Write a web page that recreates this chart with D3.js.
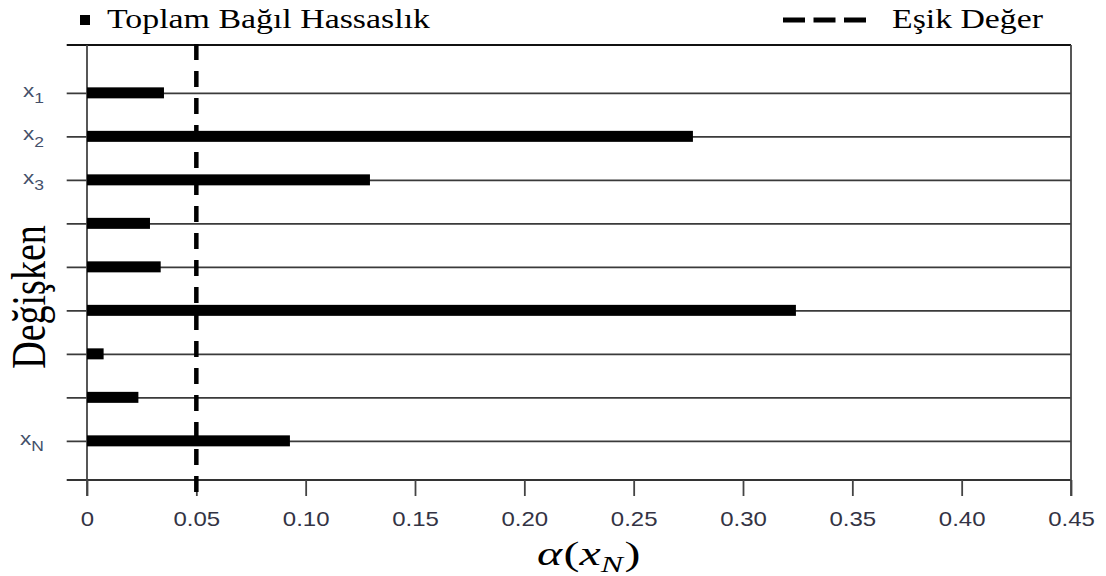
<!DOCTYPE html>
<html>
<head>
<meta charset="utf-8">
<script src="https://cdn.jsdelivr.net/npm/d3@7"></script>
<style>
  body { margin: 0; background: #fff; }
  svg { display: block; }
</style>
</head>
<body>
<script>
const outerWidth = 1106
const outerHeight = 576
const margins = { top: 45, right: 35, bottom: 96, left: 87 }

// data
const variables = ['x1', 'x2', 'x3', 'x4', 'x5', 'x6', 'x7', 'x8', 'xN']
const subscripts = ['1', '2', '3', '', '', '', '', '', 'N']
const shown = [true, true, true, false, false, false, false, false, true]
const sensitivity = [0.0352, 0.2771, 0.1294, 0.0288, 0.0337, 0.3242, 0.0076, 0.0235, 0.0928]
const threshold = 0.05
const xTicks = [0, 0.05, 0.10, 0.15, 0.20, 0.25, 0.30, 0.35, 0.40, 0.45]

const serif = '"Liberation Serif", "Times New Roman", serif'
const sans = '"Liberation Sans", Arial, sans-serif'
const stretch = 1.25

const svg = d3.select('body').append('svg')
  .attr('width', outerWidth)
  .attr('height', outerHeight)

const xScale = d3.scaleLinear()
  .domain([0, 0.45])
  .range([margins.left, outerWidth - margins.right])

const yScale = d3.scalePoint()
  .domain(variables)
  .range([margins.top, outerHeight - margins.bottom])
  .padding(1)
  .align(0.55)

const left = 66.7
const bottom = outerHeight - margins.bottom

// horizontal row lines (y axis with full-width ticks)
const yAxis = d3.axisLeft(yScale)
  .tickSize(-(xScale.range()[1] - left))
  .tickPadding(22.7)
  .tickFormat('')
const gy = svg.append('g')
  .attr('transform', `translate(${left},0)`)
  .call(yAxis)
gy.select('.domain').remove()
gy.selectAll('.tick line').attr('stroke', '#3a3a3a').attr('stroke-width', 1.6)
gy.selectAll('.tick text').remove()
gy.selectAll('.tick').each(function (d, i) {
  if (!shown[i]) return
  const t = d3.select(this).append('text')
    .attr('transform', `translate(-22.7,0) scale(${stretch},1)`)
    .attr('text-anchor', 'end')
    .attr('fill', '#44506a')
    .style('font-family', sans)
  t.append('tspan').attr('y', 3.5).style('font-size', '18px').text('x')
  t.append('tspan').attr('dy', 6.5).style('font-size', '14px').text(subscripts[i])
})

// top and bottom frame lines
svg.selectAll('line.frame')
  .data(yScale.range())
  .enter().append('line')
  .attr('class', 'frame')
  .attr('x1', left)
  .attr('x2', xScale.range()[1])
  .attr('y1', d => d)
  .attr('y2', d => d)
  .attr('stroke', d => d === margins.top ? '#111' : '#333')
  .attr('stroke-width', d => d === margins.top ? 2 : 1.8)

// bottom axis
const xAxis = d3.axisBottom(xScale)
  .tickValues(xTicks)
  .tickSize(16)
  .tickPadding(16)
  .tickFormat(d => d === 0 ? '0' : d.toFixed(2))
const gx = svg.append('g')
  .attr('transform', `translate(0,${bottom})`)
  .call(xAxis)
gx.select('.domain').remove()
gx.selectAll('.tick line').attr('stroke', '#444').attr('stroke-width', 1.8)
gx.selectAll('.tick text')
  .attr('transform', `scale(1.2,1)`)
  .attr('fill', '#333344')
  .style('font-family', sans)
  .style('font-size', '20px')

// vertical axis and right border
svg.selectAll('line.vert')
  .data([0, 0.45])
  .enter().append('line')
  .attr('class', 'vert')
  .attr('x1', d => xScale(d))
  .attr('x2', d => xScale(d))
  .attr('y1', margins.top)
  .attr('y2', bottom + 16)
  .attr('stroke', '#444')
  .attr('stroke-width', 1.8)

// bars
svg.selectAll('rect.bar')
  .data(sensitivity)
  .enter().append('rect')
  .attr('class', 'bar')
  .attr('x', xScale(0))
  .attr('y', (d, i) => yScale(variables[i]) - 5.5)
  .attr('width', d => xScale(d) - xScale(0))
  .attr('height', 11)
  .attr('fill', '#000')

// threshold line
svg.append('line')
  .attr('x1', xScale(threshold))
  .attr('x2', xScale(threshold))
  .attr('y1', margins.top - 1)
  .attr('y2', bottom + 16)
  .attr('stroke', '#000')
  .attr('stroke-width', 4.5)
  .attr('stroke-dasharray', '16,11')

// legend
svg.append('rect')
  .attr('x', 80).attr('y', 15)
  .attr('width', 10).attr('height', 10)
  .attr('fill', '#000')
svg.append('text')
  .attr('x', 107).attr('y', 28)
  .attr('textLength', 323)
  .attr('lengthAdjust', 'spacingAndGlyphs')
  .style('font-family', serif)
  .style('font-size', '27px')
  .text('Toplam Bağıl Hassaslık')

svg.append('line')
  .attr('x1', 783).attr('x2', 866)
  .attr('y1', 20).attr('y2', 20)
  .attr('stroke', '#000')
  .attr('stroke-width', 5)
  .attr('stroke-dasharray', '22,8.5')
svg.append('text')
  .attr('x', 892).attr('y', 28)
  .attr('textLength', 151)
  .attr('lengthAdjust', 'spacingAndGlyphs')
  .style('font-family', serif)
  .style('font-size', '27px')
  .text('Eşik Değer')

// axis titles
svg.append('text')
  .attr('transform', `translate(45,297) scale(${stretch},1) rotate(-90)`)
  .attr('text-anchor', 'middle')
  .style('font-family', serif)
  .style('font-size', '38px')
  .text('Değişken')

const xt = svg.append('text')
  .attr('transform', `translate(537,565) scale(1.45,1)`)
  .style('font-family', serif)
  .style('font-size', '33px')
xt.append('tspan').style('font-style', 'italic').text('α')
xt.append('tspan').attr('dx', 1).text('(')
xt.append('tspan').style('font-style', 'italic').text('x')
xt.append('tspan').attr('dy', 7).style('font-style', 'italic').style('font-size', '23px').text('N')
xt.append('tspan').attr('dy', -7).attr('dx', 1).text(')')
</script>
</body>
</html>
